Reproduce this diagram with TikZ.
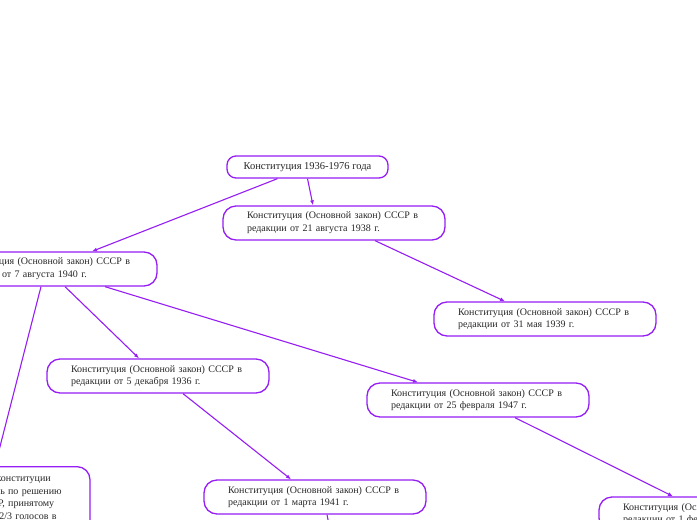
\documentclass[tikz,border=0pt]{standalone}
\usepackage{fontspec}
\setmainfont{Liberation Serif}
\usepackage{xcolor}
\usetikzlibrary{arrows.meta,positioning}
\definecolor{mmviolet}{RGB}{150,30,245}
\definecolor{mmtext}{RGB}{40,40,40}

\begin{document}
\begin{tikzpicture}[
  x=1pt,y=-1pt,
  topic/.style={draw=mmviolet,line width=1.3pt,rounded corners=13pt,fill=white,
    text width=174pt,inner xsep=24pt,inner ysep=0pt,minimum height=34pt,
    align=left,text=mmtext,font=\fontsize{10}{12.8}\selectfont},
  rootbox/.style={draw=mmviolet,line width=1.3pt,rounded corners=9pt,fill=white,
    minimum width=161pt,minimum height=22pt,inner sep=0pt,text=mmtext,
    font=\fontsize{10.5}{12.8}\selectfont},
  link/.style={-{Latex[length=5pt,width=4pt]},draw=mmviolet,line width=1.1pt}
]
\useasboundingbox (0,0) rectangle (697,520);
\fill[white] (0,0) rectangle (697,520);
\clip (0,0) rectangle (697,520);

\node[rootbox] (root) at (307.5,167) {Конституция 1936-1976 года};
\node[topic] (aug38) at (334,223) {Конституция (Основной закон) СССР в\\редакции от 21 августа 1938 г.};
\node[topic] (aug40) at (46,269) {Конституция (Основной закон) СССР в\\редакции от 7 августа 1940 г.};
\node[topic] (may39) at (545,319) {Конституция (Основной закон) СССР в\\редакции от 31 мая 1939 г.};
\node[topic] (dec36) at (158,376) {Конституция (Основной закон) СССР в\\редакции от 5 декабря 1936 г.};
\node[topic] (feb47) at (478,400) {Конституция (Основной закон) СССР в\\редакции от 25 февраля 1947 г.};
\node[topic] (mar41) at (315,497) {Конституция (Основной закон) СССР в\\редакции от 1 марта 1941 г.};
\node[topic] (feb44) at (710,514) {Конституция (Основной закон) СССР в\\редакции от 1 февраля 1944 г.};
\node[topic,anchor=north,inner ysep=8pt] (art146) at (-21,466)
  {Статья 146. Изменение конституции\\СССР производится лишь по решению\\Верховного Совета СССР, принятому\\большинством не менее 2/3 голосов в\\каждой из его палат.};
\coordinate (below) at (333,545);

\draw[link] ([xshift=0]root.south) -- ([xshift=-21]aug38.north);
\draw[link] ([xshift=-30]root.south) -- ([xshift=46]aug40.north);
\draw[link] ([xshift=41]aug38.south) -- ([xshift=-40]may39.north);
\draw[link] ([xshift=19]aug40.south) -- ([xshift=-19]dec36.north);
\draw[link] ([xshift=59]aug40.south) -- ([xshift=-60]feb47.north);
\draw[link] ([xshift=-5]aug40.south) -- ([xshift=16]art146.north);
\draw[link] ([xshift=25]dec36.south) -- ([xshift=-24]mar41.north);
\draw[link] ([xshift=37]feb47.south) -- ([xshift=-37]feb44.north);
\draw[link] ([xshift=12]mar41.south) -- (below);
\end{tikzpicture}
\end{document}
